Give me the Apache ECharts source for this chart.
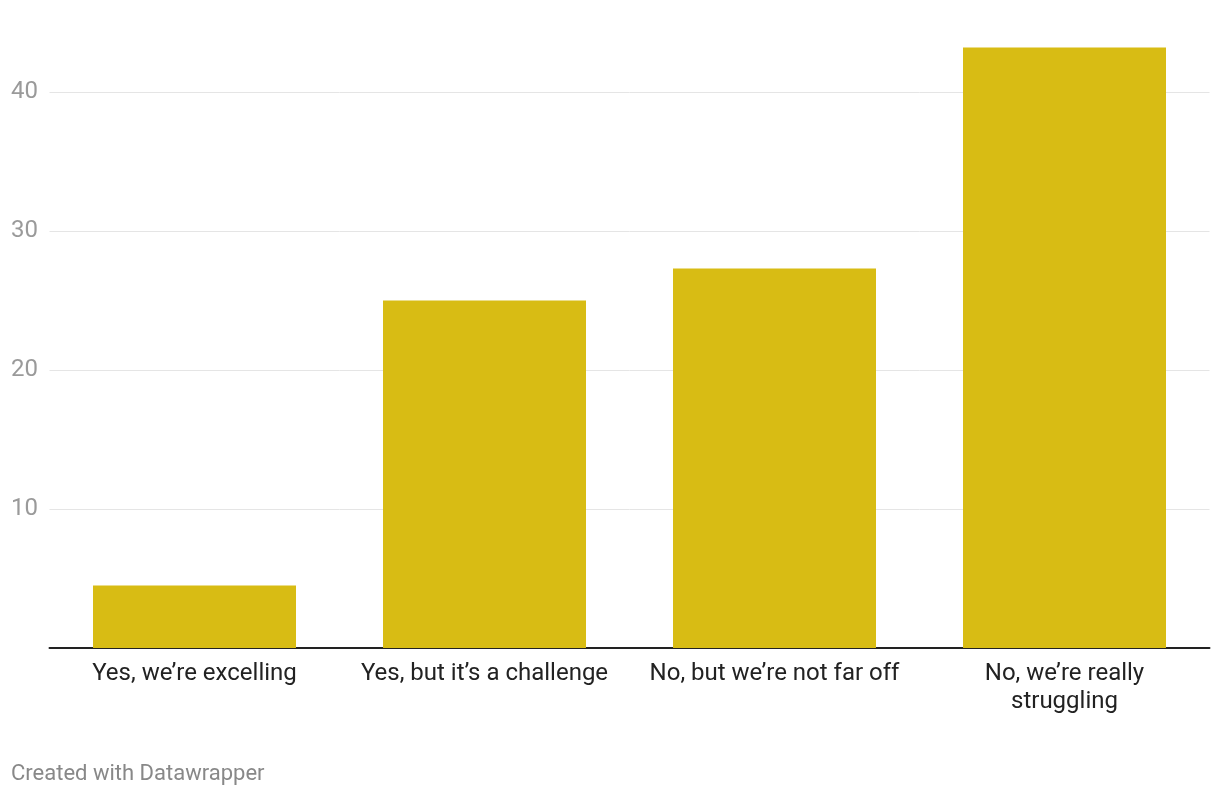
<!DOCTYPE html>
<html>
<head>
<meta charset="utf-8">
<script src="https://cdn.jsdelivr.net/npm/echarts@6/dist/echarts.min.js"></script>
<style>
html,body{margin:0;padding:0;background:#fff;}
#chart{width:1220px;height:796px;}
</style>
</head>
<body>
<div id="chart"></div>
<script>
const categories = ["Yes, we\u2019re excelling", "Yes, but it\u2019s a challenge", "No, but we\u2019re not far off", "No, we\u2019re really struggling"];
const values = [4.5, 25, 27.3, 43.2];
const yTicks = [10, 20, 30, 40];

const measureCtx = document.createElement('canvas').getContext('2d');
measureCtx.font = '24px Roboto';
function wrapLabel(text, maxW) {
  const words = text.split(' ');
  const lines = [];
  let cur = '';
  words.forEach(function (w) {
    const test = cur ? cur + ' ' + w : w;
    if (cur && measureCtx.measureText(test).width > maxW) { lines.push(cur); cur = w; }
    else { cur = test; }
  });
  if (cur) lines.push(cur);
  return lines.join('\n');
}

const chart = echarts.init(document.getElementById('chart'), null, {renderer: 'canvas'});
chart.setOption({
  animation: false,
  backgroundColor: '#ffffff',
  textStyle: {fontFamily: 'Roboto'},
  grid: {left: 49.5, right: 10.5, top: 22.5, bottom: 148, containLabel: false},
  graphic: [{
    type: 'text', left: 11, top: 763,
    style: {text: 'Created with Datawrapper', fill: '#888888', font: '22px Roboto'}
  }],
  xAxis: {
    type: 'category',
    data: categories,
    axisLine: {show: true, lineStyle: {color: '#222222', width: 2}},
    axisTick: {show: false},
    axisLabel: {
      color: '#222222', fontSize: 24, fontFamily: 'Roboto', margin: 12,
      lineHeight: 28, interval: 0,
      formatter: function (v) { return wrapLabel(v, 262); }
    }
  },
  yAxis: {
    type: 'value',
    min: 0, max: 45, interval: 10,
    axisLine: {show: false},
    axisTick: {show: false},
    splitLine: {show: true, showMaxLine: false, showMinLine: false, lineStyle: {color: '#e5e5e5', width: 1}},
    axisLabel: {
      color: '#9a9a9a', fontSize: 24, fontFamily: 'Roboto', align: 'left', margin: 38.5,
      formatter: function (v) { return (yTicks.indexOf(v) >= 0) ? String(v) : ''; }
    }
  },
  series: [{
    type: 'bar',
    data: values,
    barWidth: '70%',
    itemStyle: {color: '#d8bc14'},
    z: 1
  }]
});
</script>
</body>
</html>
